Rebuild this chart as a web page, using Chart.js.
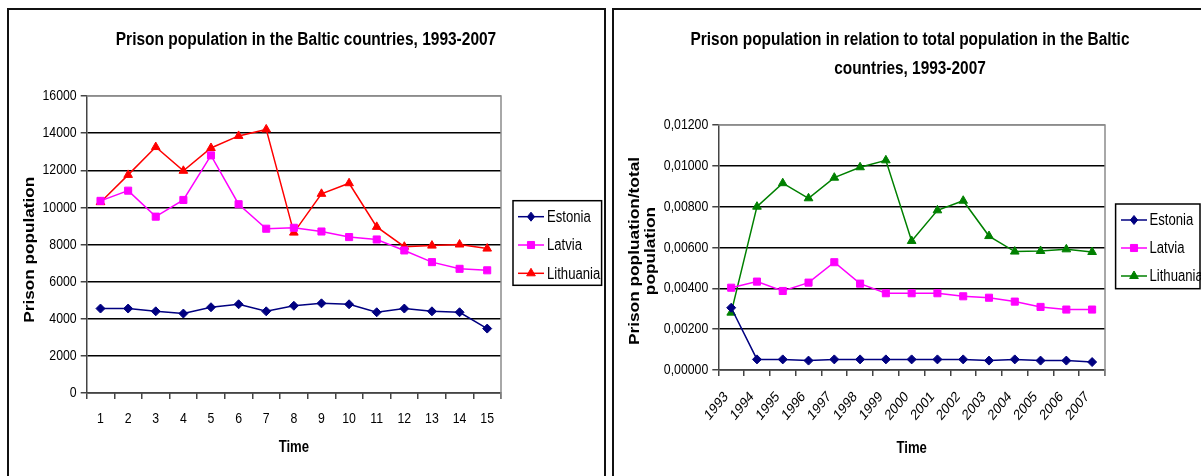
<!DOCTYPE html>
<html>
<head>
<meta charset="utf-8">
<script src="https://cdn.jsdelivr.net/npm/chart.js@4.4.1/dist/chart.umd.min.js"></script>
<style>
  html, body { margin: 0; padding: 0; background: #fff; width: 1201px; height: 476px; overflow: hidden; }
  .panel { position: absolute; top: 0; height: 476px; }
  .frame { position: absolute; top: 8px; height: 520px; border: 2px solid #111; box-sizing: border-box; pointer-events: none; }
  canvas { display: block; }
</style>
</head>
<body>
<div class="panel" style="left:0;width:606px"><canvas id="countChart" width="606" height="476"></canvas></div>
<div class="panel" style="left:606px;width:595px"><canvas id="shareChart" width="595" height="476"></canvas></div>
<div class="frame" style="left:7px;width:599px"></div>
<div class="frame" style="left:612px;width:620px"></div>
<script>
// Time axis labels
const timeIndex = ['1','2','3','4','5','6','7','8','9','10','11','12','13','14','15'];
const years = ['1993','1994','1995','1996','1997','1998','1999','2000','2001','2002','2003','2004','2005','2006','2007'];

// Prisoners, absolute numbers
const estoniaCount   = [4550, 4550, 4400, 4280, 4620, 4780, 4400, 4700, 4830, 4780, 4350, 4550, 4400, 4350, 3470];
const latviaCount    = [10350, 10900, 9500, 10400, 12800, 10170, 8850, 8900, 8700, 8400, 8270, 7680, 7050, 6690, 6610];
const lithuaniaCount = [10280, 11750, 13250, 11970, 13200, 13850, 14200, 8640, 10730, 11300, 8950, 7880, 7940, 8000, 7780];

// Prisoners per inhabitant
const estoniaShare   = [0.00305, 0.00052, 0.00052, 0.00046, 0.00052, 0.00052, 0.00052, 0.00052, 0.00052, 0.00052, 0.00046, 0.00052, 0.00046, 0.00046, 0.00039];
const latviaShare    = [0.00403, 0.00433, 0.00387, 0.00428, 0.00528, 0.00423, 0.00376, 0.00376, 0.00376, 0.00361, 0.00354, 0.00335, 0.00309, 0.00296, 0.00296];
const lithuaniaShare = [0.00281, 0.00800, 0.00915, 0.00841, 0.00942, 0.00993, 0.01027, 0.00632, 0.00782, 0.00829, 0.00656, 0.00580, 0.00583, 0.00591, 0.00578];

// Value axis ticks
const countTicks = [0, 2000, 4000, 6000, 8000, 10000, 12000, 14000, 16000];
const shareTicks = [0, 0.002, 0.004, 0.006, 0.008, 0.010, 0.012];

const FONT = '"Liberation Sans", Arial, sans-serif';
const SQUEEZE = 0.82;   // horizontal squeeze applied to every text run

function series(label, data, color, pointStyle, radius) {
  return {
    label, data,
    borderColor: color, backgroundColor: color,
    borderWidth: 1.5,
    pointStyle, pointRadius: radius,
    pointBackgroundColor: color, pointBorderColor: color, pointBorderWidth: 1,
    tension: 0
  };
}

function marker(ctx, style, x, y, r) {
  ctx.beginPath();
  if (style === 'rect') {
    const s = r * Math.SQRT1_2;
    ctx.rect(x - s, y - s, 2 * s, 2 * s);
  } else if (style === 'rectRot') {
    ctx.moveTo(x, y - r); ctx.lineTo(x + r * 0.8, y); ctx.lineTo(x, y + r); ctx.lineTo(x - r * 0.8, y);
    ctx.closePath();
  } else {
    ctx.moveTo(x, y - r); ctx.lineTo(x + r * 0.866, y + r * 0.5); ctx.lineTo(x - r * 0.866, y + r * 0.5);
    ctx.closePath();
  }
  ctx.fill(); ctx.stroke();
}

// Narrow text: every fillText is squeezed horizontally (in page space) around its anchor
const narrowText = {
  id: 'narrowText',
  beforeInit(chart) {
    const ctx = chart.ctx;
    const fill = ctx.fillText;
    ctx.fillText = function (text, x, y, maxWidth) {
      const m = this.getTransform();
      const p = m.transformPoint(new DOMPoint(x, y));
      const t = new DOMMatrix().translate(p.x, p.y).scale(SQUEEZE, 1).translate(-p.x, -p.y).multiply(m);
      this.save();
      this.setTransform(t);
      if (maxWidth === undefined || maxWidth === null) fill.call(this, text, x, y);
      else fill.call(this, text, x, y, maxWidth / SQUEEZE);
      this.restore();
    };
  }
};

// Titles, axis captions, legend box and the grey plot frame
const decor = {
  id: 'decor',
  beforeDatasetsDraw(chart, args, o) {
    const { ctx, chartArea: a } = chart;
    ctx.save();
    ctx.strokeStyle = '#8c8c8c';
    ctx.lineWidth = 1.5;
    ctx.beginPath();
    ctx.moveTo(a.left, a.top); ctx.lineTo(a.right, a.top); ctx.lineTo(a.right, a.bottom + 6);
    ctx.stroke();
    ctx.restore();
  },
  afterDraw(chart, args, o) {
    const { ctx, chartArea: a } = chart;
    ctx.save();
    ctx.fillStyle = '#000';
    ctx.textAlign = 'center';
    ctx.textBaseline = 'middle';

    ctx.font = 'bold ' + o.titleSize + 'px ' + FONT;
    o.title.forEach((t, i) => ctx.fillText(t, o.titleX, o.titleY + i * o.titleLead));

    ctx.font = 'bold 16px ' + FONT;
    ctx.fillText('Time', (a.left + a.right) / 2, o.xTitleY);

    ctx.font = 'bold ' + o.yTitleSize + 'px ' + FONT;
    o.yTitle.forEach((t, i) => {
      ctx.save();
      ctx.translate(o.yTitleX + i * 16, o.yTitleY);
      ctx.rotate(-Math.PI / 2);
      ctx.fillText(t, 0, 0);
      ctx.restore();
    });

    const L = o.legend;
    ctx.strokeStyle = '#000';
    ctx.lineWidth = 1.5;
    ctx.strokeRect(L.x0, L.y0, L.x1 - L.x0, L.y1 - L.y0);
    ctx.textAlign = 'left';
    ctx.font = '16px ' + FONT;
    chart.data.datasets.forEach((ds, i) => {
      const y = L.firstY + i * L.step;
      ctx.strokeStyle = ds.borderColor;
      ctx.fillStyle = ds.borderColor;
      ctx.lineWidth = 1.5;
      ctx.beginPath(); ctx.moveTo(L.lineX0, y); ctx.lineTo(L.lineX1, y); ctx.stroke();
      ctx.lineWidth = 1;
      marker(ctx, ds.pointStyle, (L.lineX0 + L.lineX1) / 2, y, ds.pointRadius);
      ctx.fillStyle = '#000';
      ctx.fillText(ds.label, L.textX, y + 1);
    });
    ctx.restore();
  }
};

const tickFont = { family: FONT, size: 15 };

new Chart(document.getElementById('countChart'), {
  type: 'line',
  data: {
    labels: timeIndex,
    datasets: [
      series('Estonia', estoniaCount, '#000080', 'rectRot', 4.5),
      series('Latvia', latviaCount, '#FF00FF', 'rect', 5),
      series('Lithuania', lithuaniaCount, '#FF0000', 'triangle', 5)
    ]
  },
  options: {
    responsive: false, animation: false, devicePixelRatio: 1,
    layout: { padding: { left: 26.7, right: 105, top: 96, bottom: 0 } },
    plugins: {
      legend: { display: false }, tooltip: { enabled: false },
      decor: {
        title: ['Prison population in the Baltic countries, 1993-2007'],
        titleSize: 18.9, titleX: 306, titleY: 40, titleLead: 29,
        xTitleY: 448,
        yTitle: ['Prison population'], yTitleSize: 17.2, yTitleX: 29.7, yTitleY: 249.7,
        legend: { x0: 513, y0: 200.7, x1: 601.6, y1: 285.3, firstY: 216.7, step: 28.3, lineX0: 518, lineX1: 544, textX: 547 }
      }
    },
    scales: {
      x: {
        offset: true,
        grid: { offset: true, drawOnChartArea: false, tickLength: 6, color: '#444', lineWidth: 1.5 },
        border: { color: '#444', width: 1.5 },
        ticks: { font: tickFont, color: '#000', padding: 11, maxRotation: 0, autoSkip: false },
        afterFit(s) { s.height = 83; }
      },
      y: {
        min: 0, max: 16000,
        afterBuildTicks(s) { s.ticks = countTicks.map(v => ({ value: v })); },
        grid: { color: c => (c.tick && c.tick.value === 16000 ? '#8c8c8c' : '#000'), lineWidth: 1.5, tickLength: 6, tickColor: '#444' },
        border: { color: '#444', width: 1.5 },
        ticks: { font: tickFont, color: '#000', padding: 4, callback: v => String(v) },
        afterFit(s) { s.width = 60; }
      }
    }
  },
  plugins: [narrowText, decor]
});

new Chart(document.getElementById('shareChart'), {
  type: 'line',
  data: {
    labels: years,
    datasets: [
      series('Estonia', estoniaShare, '#000080', 'rectRot', 4.5),
      series('Latvia', latviaShare, '#FF00FF', 'rect', 5),
      series('Lithuania', lithuaniaShare, '#008000', 'triangle', 5)
    ]
  },
  options: {
    responsive: false, animation: false, devicePixelRatio: 1,
    layout: { padding: { left: 32.3, right: 96, top: 125, bottom: 0 } },
    plugins: {
      legend: { display: false }, tooltip: { enabled: false },
      decor: {
        title: ['Prison population in relation to total population in the Baltic', 'countries, 1993-2007'],
        titleSize: 18.8, titleX: 304, titleY: 40, titleLead: 29,
        xTitleY: 449,
        yTitle: ['Prison popluation/total', 'population'], yTitleSize: 17.3, yTitleX: 28.6, yTitleY: 251,
        legend: { x0: 509.6, y0: 204, x1: 594, y1: 288.7, firstY: 220, step: 28, lineX0: 515, lineX1: 541, textX: 543.5 }
      }
    },
    scales: {
      x: {
        offset: true,
        grid: { offset: true, drawOnChartArea: false, tickLength: 6, color: '#444', lineWidth: 1.5 },
        border: { color: '#444', width: 1.5 },
        ticks: { font: tickFont, color: '#000', padding: 12, labelOffset: -5, minRotation: 45, maxRotation: 45, autoSkip: false },
        afterFit(s) { s.height = 106; }
      },
      y: {
        min: 0, max: 0.012,
        afterBuildTicks(s) { s.ticks = shareTicks.map(v => ({ value: v })); },
        grid: { color: c => (c.tick && c.tick.value >= 0.0119 ? '#8c8c8c' : '#000'), lineWidth: 1.5, tickLength: 6, tickColor: '#444' },
        border: { color: '#444', width: 1.5 },
        ticks: { font: tickFont, color: '#000', padding: 4, callback: v => Number(v).toFixed(5).replace('.', ',') },
        afterFit(s) { s.width = 80; }
      }
    }
  },
  plugins: [narrowText, decor]
});
</script>
</body>
</html>
